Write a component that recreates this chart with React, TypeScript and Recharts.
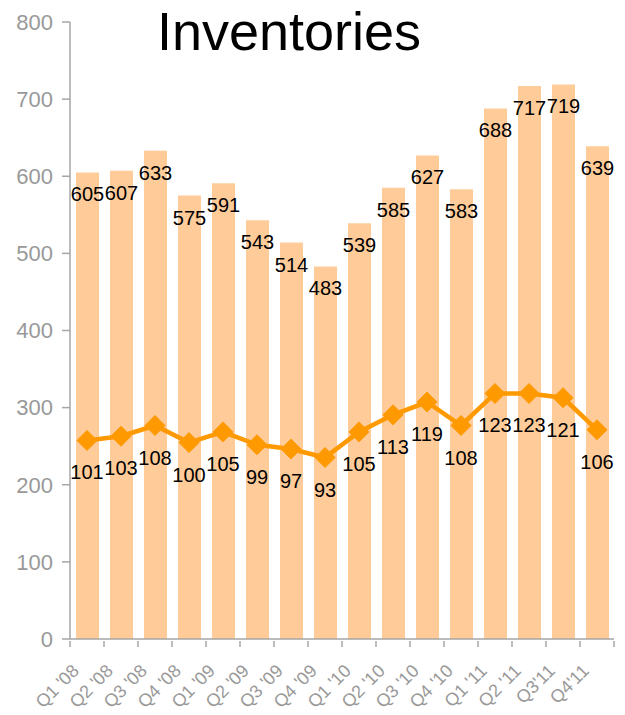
import React from "react";
import {
  ComposedChart,
  Bar,
  Line,
  XAxis,
  YAxis,
  LabelList,
} from "recharts";

const quarters = [
  "Q1 '08", "Q2 '08", "Q3 '08", "Q4 '08",
  "Q1 '09", "Q2 '09", "Q3 '09", "Q4 '09",
  "Q1 '10", "Q2 '10", "Q3 '10", "Q4 '10",
  "Q1 '11", "Q2 '11", "Q3'11", "Q4'11",
];
const inventories = [605, 607, 633, 575, 591, 543, 514, 483, 539, 585, 627, 583, 688, 717, 719, 639];
const days = [101, 103, 108, 100, 105, 99, 97, 93, 105, 113, 119, 108, 123, 123, 121, 106];
const yTicks = [0, 100, 200, 300, 400, 500, 600, 700, 800];

const data = quarters.map((q, i) => ({ q, inv: inventories[i], days: days[i] }));

const W = 625;
const H = 715;
const LEFT = 70;
const RIGHT = 11;
const BAND = (W - LEFT - RIGHT) / quarters.length;
const GREY = "#a6a6a6";
const FONT = "'Liberation Sans', Arial, sans-serif";

const XTick = (props: any) => {
  const { x, y, payload, index } = props;
  const half = BAND / 2;
  const tx = x - 7;
  const ty = y + 31;
  return (
    <g>
      <line x1={x - half} y1={y} x2={x - half} y2={y + 6} stroke={GREY} strokeWidth={1.5} />
      {index === quarters.length - 1 && (
        <line x1={x + half} y1={y} x2={x + half} y2={y + 6} stroke={GREY} strokeWidth={1.5} />
      )}
      <text
        x={tx}
        y={ty}
        transform={`rotate(-45, ${tx}, ${ty})`}
        textAnchor="end"
        fill="#999999"
        fontSize={18}
        fontFamily={FONT}
      >
        {payload.value}
      </text>
    </g>
  );
};

const BarLabel = (props: any) => {
  const { x, y, width, value } = props;
  return (
    <text x={x + width / 2} y={y + 22} textAnchor="middle" dominantBaseline="central" fontSize={20} fontFamily={FONT} fill="#000">
      {value}
    </text>
  );
};

const LineLabel = (props: any) => {
  const { x, y, value } = props;
  return (
    <text x={x} y={y + 32} textAnchor="middle" dominantBaseline="central" fontSize={20} fontFamily={FONT} fill="#000">
      {value}
    </text>
  );
};

const Diamond = (props: any) => {
  const { cx, cy } = props;
  if (cx == null || cy == null) return null;
  const r = 10;
  return (
    <polygon
      points={`${cx},${cy - r} ${cx + r},${cy} ${cx},${cy + r} ${cx - r},${cy}`}
      fill="#ff9900"
      stroke="#ff9900"
    />
  );
};

export default function App() {
  return (
    <div style={{ position: "absolute", left: 0, top: 0, width: W, height: H, background: "#fff" }}>
      <div
        style={{
          position: "absolute",
          left: 0,
          top: 4,
          width: 578,
          textAlign: "center",
          fontFamily: FONT,
          fontSize: 54,
          lineHeight: "54px",
          color: "#000",
          zIndex: 2,
        }}
      >
        Inventories
      </div>
      <ComposedChart
        width={W}
        height={H}
        data={data}
        margin={{ top: 22, right: RIGHT, left: 0, bottom: 0 }}
      >
        <XAxis
          dataKey="q"
          height={76}
          interval={0}
          tickSize={0}
          tickLine={false}
          axisLine={{ stroke: GREY, strokeWidth: 1.5 }}
          tick={<XTick />}
        />
        <YAxis
          yAxisId="left"
          width={LEFT}
          domain={[0, 800]}
          ticks={yTicks}
          interval={0}
          tickSize={8}
          tickMargin={9}
          axisLine={{ stroke: GREY, strokeWidth: 1.5 }}
          tickLine={{ stroke: GREY, strokeWidth: 1.5 }}
          tick={{ fill: "#999999", fontSize: 22, fontFamily: FONT }}
        />
        <YAxis yAxisId="right" orientation="right" domain={[8, 297]} allowDataOverflow hide />
        <Bar yAxisId="left" dataKey="inv" fill="#ffcc99" barSize={23} isAnimationActive={false}>
          <LabelList dataKey="inv" content={<BarLabel />} />
        </Bar>
        <Line
          yAxisId="right"
          dataKey="days"
          stroke="#ff9900"
          strokeWidth={4.5}
          dot={<Diamond />}
          activeDot={false}
          isAnimationActive={false}
        >
          <LabelList dataKey="days" content={<LineLabel />} />
        </Line>
      </ComposedChart>
    </div>
  );
}
